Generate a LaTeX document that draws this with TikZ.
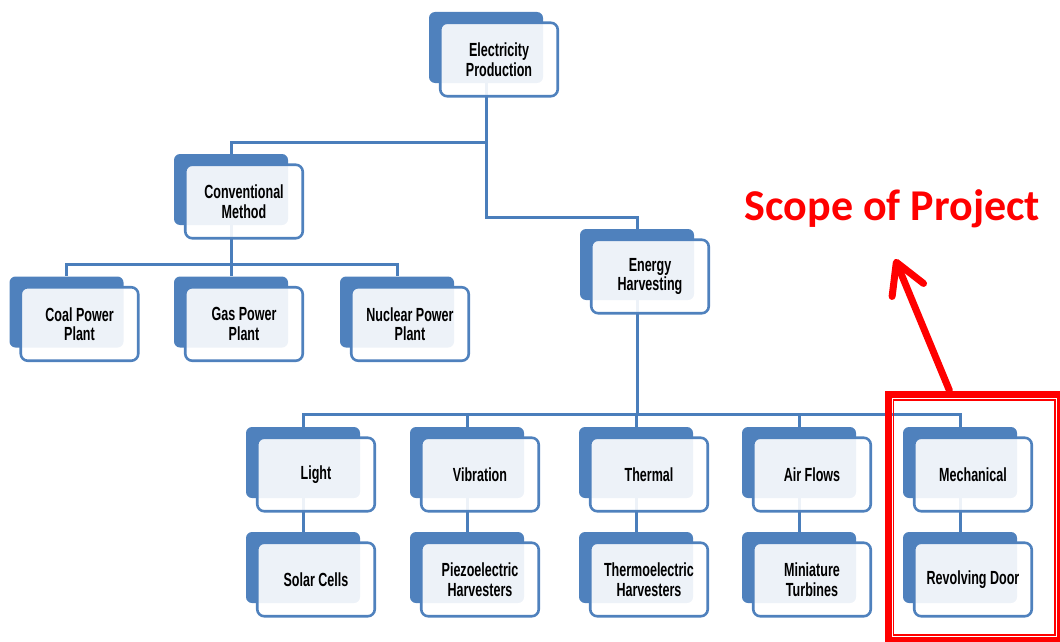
\documentclass[tikz,border=0pt]{standalone}
\usepackage{fontspec}
\newfontfamily\boxfont{Liberation Sans}[FakeStretch=0.66]
\newfontfamily\calfont{Carlito}
\usetikzlibrary{backgrounds,arrows.meta,calc}
\definecolor{obBlue}{HTML}{4F81BD}
\definecolor{connBlue}{HTML}{4A7EBB}
\tikzset{
  backbox/.style={rectangle, rounded corners=6pt, fill=obBlue, minimum width=114pt, minimum height=71pt, inner sep=0pt},
  frontbox/.style={rectangle, rounded corners=7pt, draw=obBlue, line width=2.6pt, fill=white, fill opacity=0.9, text opacity=1, minimum width=117.5pt, minimum height=73.5pt, inner sep=0pt, align=center, font=\boxfont\bfseries\fontsize{19}{19.5}\selectfont},
  conn/.style={draw=connBlue, line width=3pt},
  redframe/.style={draw=red, inner sep=0pt},
}
\newcommand\orgnode[3]{%
  \node[backbox] (#1) at (#2) {};
  \node[frontbox] (#1-f) at ($(#1)+(13,12)$) {#3};
}
\begin{document}
\begin{tikzpicture}[x=1pt,y=-1pt]
\clip (0,0) rectangle (1060,642);
\useasboundingbox (0,0) rectangle (1060,642);
% nodes
\orgnode{ep}{486,47.5}{Electricity\\Production}
\orgnode{cm}{231,189.5}{Conventional\\Method}
\orgnode{eh}{637,264.5}{Energy\\Harvesting}
\orgnode{coal}{66.5,312}{Coal Power\\Plant}
\orgnode{gas}{231,312}{Gas Power\\Plant}
\orgnode{nuc}{397,312}{Nuclear Power\\Plant}
\orgnode{light}{303,462.5}{Light}
\orgnode{vib}{467,462.5}{Vibration}
\orgnode{therm}{636,462.5}{Thermal}
\orgnode{air}{799,462.5}{Air Flows}
\orgnode{mech}{960,462.5}{Mechanical}
\orgnode{solar}{303,567.5}{Solar Cells}
\orgnode{piezo}{467,567.5}{Piezoelectric\\Harvesters}
\orgnode{thele}{636,567.5}{Thermoelectric\\Harvesters}
\orgnode{turb}{799,567.5}{Miniature\\Turbines}
\orgnode{door}{960,567.5}{Revolving Door}
% connectors
\begin{pgfonlayer}{background}
\draw[conn] (ep.south) -- ++(0,59) -| (cm.north);
\draw[conn] (ep.south) -- ++(0,134) -| (eh.north);
\foreach \c in {coal,gas,nuc} \draw[conn] (cm.south) -- ++(0,39) -| (\c.north);
\foreach \c in {light,vib,therm,air,mech} \draw[conn] (eh.south) -- ++(0,114) -| (\c.north);
\draw[conn] (light.south) -- (solar.north);
\draw[conn] (vib.south) -- (piezo.north);
\draw[conn] (therm.south) -- (thele.north);
\draw[conn] (air.south) -- (turb.north);
\draw[conn] (mech.south) -- (door.north);
\end{pgfonlayer}
% scope of project
\node[redframe, line width=7pt, minimum width=172pt, minimum height=246.5pt] (scopebox) at (974.5,517.25) {};
\node[redframe, line width=1.3pt, minimum width=161.7pt, minimum height=235pt] (scopeinner) at (974.15,517.5) {};
\node[text=red, font=\calfont\bfseries\fontsize{44}{52}\selectfont, anchor=base, inner sep=0pt] (scopetext) at (892.5,220) {Scope of Project};
\coordinate (arrowtip) at (895,259);
\draw[red, line width=7pt, line cap=round, -{Straight Barb[length=30pt, width=34pt, round]}] ($(scopebox.north west)!0.36!(scopebox.north east)$) -- (arrowtip);
\end{tikzpicture}
\end{document}
